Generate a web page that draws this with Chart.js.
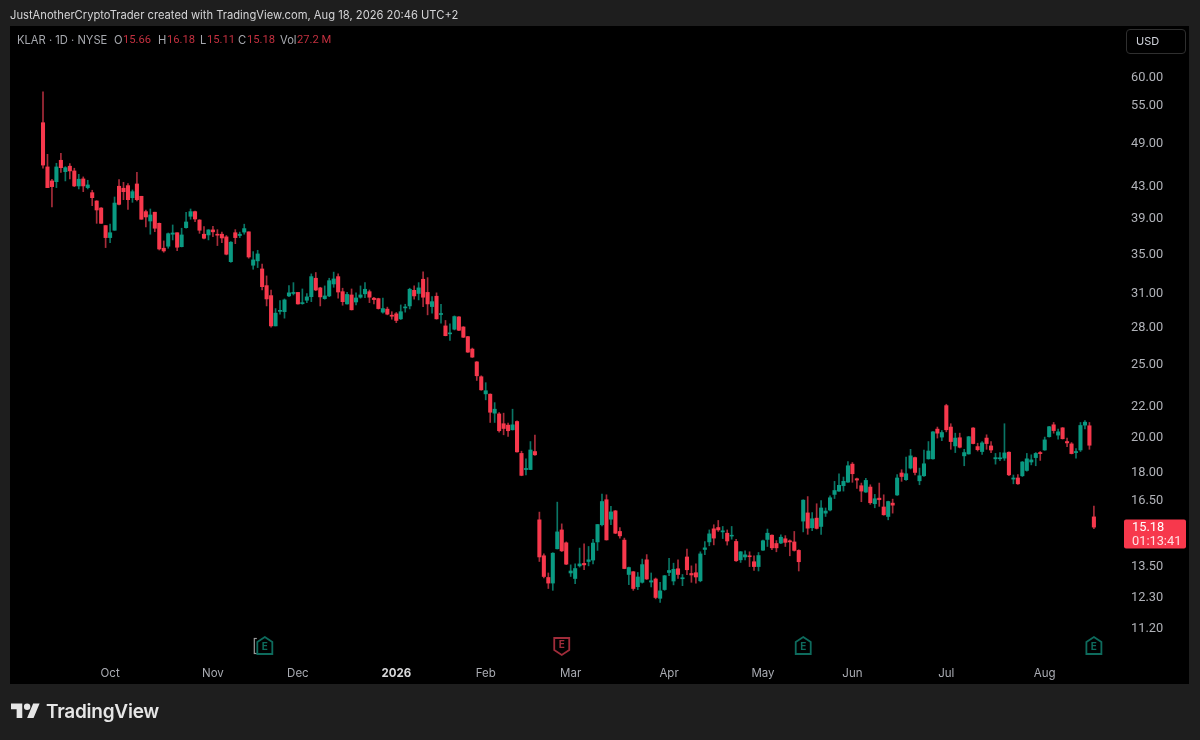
<!DOCTYPE html>
<html>
<head>
<meta charset="utf-8">
<script src="https://cdn.jsdelivr.net/npm/chart.js@4"></script>
<style>
html,body{margin:0;padding:0;background:#1e1e1e;width:1200px;height:740px;overflow:hidden;font-family:Inter,"Liberation Sans",sans-serif}
#panel{position:absolute;left:10px;top:26px;width:1179px;height:658px;background:#000}
#wrap{position:absolute;left:0;top:0;width:1200px;height:740px}
#head{position:absolute;left:10px;top:8px;font-size:11.2px;line-height:14px;color:#d4d4d6;white-space:nowrap}
#legend{position:absolute;left:0;top:33px;height:14px;font-size:11.2px;line-height:14px;color:#a6a8ae;white-space:nowrap}
#legend span{position:absolute;top:0}
#legend .v{color:#c2303f;font-family:Roboto,sans-serif;font-size:11.2px}
#usd{position:absolute;left:1126px;top:29px;width:58px;height:23px;border:1px solid #2f2f2f;border-radius:4px;color:#d1d4dc;font-size:11px;line-height:23px;text-align:left;text-indent:9px}
#logo{position:absolute;left:11px;top:700px}
#brand{position:absolute;left:46px;top:699px;font-size:19px;line-height:26px;font-weight:600;color:#e6e6e6;letter-spacing:-.25px}
</style>
</head>
<body>
<div id="panel"></div>
<div id="wrap"><canvas id="c" width="1200" height="740"></canvas></div>
<div id="head">JustAnotherCryptoTrader created with TradingView.com, Aug 18, 2026 20:46 UTC+2</div>
<div id="legend">
<span style="left:17px">KLAR · 1D · NYSE</span>
<span style="left:114px">O</span><span class="v" style="left:123px">15.66</span>
<span style="left:158px">H</span><span class="v" style="left:167px">16.18</span>
<span style="left:200px">L</span><span class="v" style="left:207px">15.11</span>
<span style="left:238px">C</span><span class="v" style="left:247px">15.18</span>
<span style="left:280px">Vol</span><span class="v" style="left:297px">27.2 M</span>
</div>
<div id="usd">USD</div>
<svg id="logo" width="29" height="20" viewBox="0 0 36 24"><path fill="#e6e6e6" d="M14 22H7V11H0V4h14v18zM28 22h-8l7.5-18h8L28 22z"/><circle fill="#e6e6e6" cx="20" cy="8" r="4"/></svg>
<div id="brand">TradingView</div>
<script>
const opens=[
52.04,45.48,43.58,43.48,46.41,44.83,45.58,44.93,42.92,43.85,
42.70,42.05,41.00,40.13,38.04,36.67,37.50,42.88,42.62,42.96,
41.41,43.18,41.59,39.69,38.57,39.62,38.30,35.50,35.72,37.05,
37.22,35.67,37.80,39.13,39.69,38.69,37.05,36.97,37.54,37.05,
37.05,36.75,34.08,37.22,36.90,37.29,37.32,33.71,34.16,33.33,
31.68,30.73,28.02,29.29,29.26,30.70,30.93,31.03,29.99,30.30,
30.63,32.40,31.46,30.45,30.70,31.84,32.56,31.10,29.96,30.79,
30.14,30.58,30.90,31.10,30.49,30.45,29.22,29.49,28.95,29.07,
28.63,29.60,29.78,31.23,30.93,32.30,31.03,29.72,30.67,29.01,
28.02,27.35,27.74,28.80,27.93,27.12,26.11,25.11,24.00,22.78,
22.76,21.48,21.43,20.80,20.71,20.42,20.94,19.00,18.09,18.09,
19.11,15.52,13.91,13.02,12.80,14.21,15.05,14.47,13.20,12.98,
13.49,13.59,13.67,13.73,14.51,15.29,16.50,15.55,15.95,14.98,
14.59,13.14,13.25,12.66,12.83,13.74,12.84,12.96,12.22,12.55,
13.22,12.88,13.37,12.97,13.86,13.18,13.21,12.89,14.18,14.51,
15.10,15.16,14.96,14.90,14.77,14.53,13.74,13.86,13.91,13.66,
13.46,14.15,14.62,14.81,14.44,14.46,14.65,14.56,14.51,14.14,
15.46,15.85,15.15,15.60,15.21,15.84,15.99,16.77,16.94,17.22,
17.41,18.39,17.59,17.22,16.89,17.15,16.30,16.58,16.14,15.68,
16.33,16.74,17.90,17.54,18.17,18.76,17.48,17.75,18.69,18.69,
20.46,19.97,21.98,20.59,19.44,19.93,18.86,18.97,20.53,19.40,
19.11,19.91,19.44,18.69,18.69,18.73,19.07,17.57,17.63,17.75,
18.04,18.51,18.76,19.05,19.20,19.99,20.73,20.09,20.54,19.70,
19.56,19.05,19.20,20.71,20.67,15.66];
const highs=[
57.19,47.26,43.81,45.99,47.40,45.52,45.93,45.30,44.47,44.12,
43.67,42.36,41.04,40.17,38.04,38.20,41.50,43.76,43.40,43.22,
42.40,44.74,41.59,39.89,40.01,39.62,38.34,36.30,37.19,38.11,
37.22,37.73,39.62,40.01,39.77,38.73,37.92,37.57,37.96,37.57,
37.29,36.90,36.23,37.57,37.29,38.20,37.32,35.14,35.28,33.84,
32.63,31.26,29.54,30.27,30.42,31.68,31.97,31.03,31.36,30.93,
32.83,32.97,31.52,31.65,32.40,33.01,32.83,31.43,31.03,31.36,
30.99,31.65,31.97,31.26,30.58,30.49,30.49,29.67,29.26,29.19,
29.87,29.93,31.43,31.65,31.97,33.04,32.46,30.63,30.99,29.93,
28.49,28.19,28.89,28.83,27.96,27.15,26.19,25.14,24.07,23.57,
22.78,22.18,21.52,21.48,20.84,21.74,20.98,19.13,18.69,19.70,
20.09,15.89,13.99,13.20,14.04,16.38,15.33,14.51,13.53,13.57,
14.24,14.43,14.31,14.63,15.30,16.79,16.75,16.17,15.97,15.16,
14.68,13.44,13.26,13.22,13.77,13.96,13.20,13.00,12.83,13.10,
13.80,13.60,13.74,13.14,14.20,13.49,13.57,14.08,14.53,15.05,
15.29,15.49,15.21,15.05,15.21,14.63,14.09,14.12,14.08,13.91,
14.05,14.59,15.09,14.83,14.57,14.83,14.79,14.60,14.98,14.17,
16.50,16.66,15.87,16.30,16.46,16.09,16.70,17.45,17.86,17.68,
18.54,18.48,17.63,17.36,17.61,17.27,16.77,17.36,16.75,16.43,
16.53,17.82,18.08,18.79,19.24,18.79,18.17,19.20,19.70,20.31,
20.59,20.37,22.07,20.80,20.21,20.21,19.24,20.01,20.56,19.60,
19.70,20.11,19.70,19.00,19.05,20.80,19.09,17.79,17.82,18.54,
19.00,18.92,19.05,19.11,19.97,20.63,20.88,20.46,20.56,19.91,
19.64,19.28,20.88,21.00,20.88,16.18];
const lows=[
45.30,42.70,40.26,42.70,44.74,43.58,43.85,42.83,42.53,42.18,
42.53,40.42,38.30,38.30,35.57,36.11,37.50,40.50,41.16,39.97,
40.83,41.00,38.78,37.88,37.05,37.34,35.31,35.07,35.50,36.41,
35.24,35.64,37.73,38.78,38.49,37.15,36.52,36.41,36.78,35.79,
36.11,34.79,34.01,36.00,36.67,37.05,34.44,33.30,33.47,31.26,
29.78,27.91,28.02,29.04,28.69,30.63,30.79,29.93,29.93,30.08,
30.17,31.20,29.78,30.39,30.63,31.52,30.49,29.84,29.93,29.41,
29.87,30.49,30.54,30.08,29.96,29.49,29.13,28.98,28.60,28.30,
28.57,29.22,29.51,30.39,30.33,29.72,28.98,29.13,28.60,28.25,
27.18,26.80,27.68,27.62,27.04,25.84,25.45,23.73,23.03,22.37,
20.88,20.88,20.27,20.11,20.01,20.40,19.07,17.75,17.80,18.08,
18.88,13.67,13.00,12.59,12.52,14.20,14.09,13.54,13.06,12.78,
13.44,13.33,13.49,13.57,14.14,15.24,14.59,15.29,14.88,14.68,
13.37,12.74,12.52,12.55,12.80,12.94,12.65,12.20,12.07,12.52,
13.09,12.73,12.98,12.70,13.13,12.83,12.80,12.85,13.96,14.34,
14.38,14.98,14.66,14.37,14.63,13.67,13.63,13.74,13.46,13.30,
13.28,14.14,14.31,14.17,14.08,14.43,14.31,13.91,14.11,13.28,
14.96,14.85,15.02,15.09,14.84,15.68,15.95,16.56,16.92,16.94,
17.40,17.40,17.08,16.40,16.87,16.27,16.10,16.17,15.74,15.52,
15.84,16.72,17.45,17.50,18.12,17.80,17.27,17.71,18.67,18.67,
19.91,19.75,20.29,19.24,19.05,19.32,18.30,18.96,19.56,19.14,
18.94,19.24,19.05,18.39,18.58,18.60,17.75,17.32,17.29,17.71,
18.00,18.35,18.30,18.60,19.18,19.97,20.21,19.85,19.85,19.40,
18.97,18.73,19.11,20.48,19.24,15.11];
const closes=[
45.74,42.70,42.83,45.48,45.38,45.38,44.93,42.92,43.81,42.92,
43.05,41.41,39.89,38.30,36.67,37.22,40.74,40.58,42.18,41.16,
42.18,41.16,38.78,39.05,39.29,37.73,35.42,35.21,37.11,37.19,
35.61,36.97,38.46,39.69,38.81,37.50,36.60,37.54,37.32,36.94,
36.63,34.86,36.16,36.67,37.05,37.69,34.57,34.26,34.89,31.58,
30.42,28.02,29.13,29.38,30.33,30.99,31.03,29.96,30.08,30.61,
32.56,31.26,30.61,30.70,32.16,32.33,31.07,30.17,30.84,29.43,
30.51,30.79,31.33,30.58,30.36,29.54,29.54,29.04,28.86,28.49,
29.26,29.69,31.33,30.70,31.46,30.58,29.96,30.17,28.63,29.10,
27.20,27.43,28.83,27.65,27.07,25.87,25.48,24.07,23.06,23.00,
21.54,21.74,20.36,20.50,20.36,20.73,19.09,17.77,18.15,19.20,
18.92,13.86,13.06,12.80,14.02,14.96,14.12,13.56,13.28,13.38,
13.57,13.53,13.74,14.46,15.30,16.41,14.60,15.90,14.90,14.78,
13.38,13.42,12.59,13.04,13.54,12.96,12.89,12.25,12.50,13.09,
13.30,13.35,13.14,13.01,13.33,13.12,13.04,13.99,14.25,14.87,
14.68,15.05,15.01,14.55,14.81,13.70,14.08,13.95,13.87,13.46,
13.92,14.56,14.90,14.25,14.25,14.72,14.49,14.51,14.14,13.66,
16.48,15.13,15.57,15.12,16.09,15.94,16.60,16.97,17.24,17.45,
18.30,17.86,17.52,16.94,17.50,16.35,16.55,16.50,15.76,16.41,
16.23,17.63,17.71,17.86,18.86,17.93,17.75,18.41,19.14,20.29,
20.21,20.25,20.42,19.70,19.91,19.36,19.05,19.99,19.58,19.22,
19.62,19.58,19.20,18.76,18.75,19.03,17.80,17.63,17.32,18.51,
18.69,18.63,19.00,18.99,19.80,20.61,20.37,20.29,19.87,19.62,
18.99,19.11,20.69,20.90,19.48,15.18];

const priceTicks=[60,55,49,43,39,35,31,28,25,22,20,18,16.5,13.5,12.3,11.2];
const monthBars=[15,38,57,79,99,118,140,161,181,202,224];
const monthLabels=['Oct','Nov','Dec','2026','Feb','Mar','Apr','May','Jun','Jul','Aug'];
const earningsBars=[49.6,116,170,235];
const countdown='01:13:41';

const RED='#f7384c',GREEN='#0a9a82',RED_W='#a82c3a',GREEN_W='#0a7565';
const isUp=i=>closes[i]>=opens[i];
const wickData=opens.map((_,i)=>({x:i,y:[lows[i],highs[i]]}));
const bodyData=opens.map((_,i)=>({x:i,y:[Math.min(opens[i],closes[i]),Math.max(opens[i],closes[i])]}));

const overlay={id:'overlay',afterDatasetsDraw(chart){
  const {ctx,scales:{x,y}}=chart;
  ctx.save();
  // earnings markers
  const my=646;
  earningsBars.forEach((b,k)=>{
    const cx=x.getPixelForValue(b);
    const down=k===1;
    const col=down?'#a02c3a':'#0e6b5d';
    if(k===0){ctx.strokeStyle='#9a9a9a';ctx.lineWidth=1.2;ctx.strokeRect(cx-10.5,my-7.5,8,15);ctx.fillStyle='#000';ctx.fillRect(cx-8,my-9,16,18);}
    ctx.beginPath();
    if(down){ctx.moveTo(cx-7.5,my-8);ctx.lineTo(cx+7.5,my-8);ctx.lineTo(cx+7.5,my+4);ctx.lineTo(cx,my+9);ctx.lineTo(cx-7.5,my+4);}
    else{ctx.moveTo(cx,my-9);ctx.lineTo(cx+7.5,my-4);ctx.lineTo(cx+7.5,my+8);ctx.lineTo(cx-7.5,my+8);ctx.lineTo(cx-7.5,my-4);}
    ctx.closePath();ctx.lineWidth=1.8;ctx.strokeStyle=col;ctx.stroke();
    ctx.fillStyle=col;ctx.font='700 10px Inter';ctx.textAlign='center';ctx.textBaseline='middle';
    ctx.fillText('E',cx,my+(down?-1:1));
  });
  // last price tag
  const last=closes[closes.length-1],ly=y.getPixelForValue(last);
  ctx.fillStyle=RED;
  ctx.beginPath();ctx.roundRect(1124,ly-7.5,62,29,2);ctx.fill();
  ctx.fillStyle='#fff';ctx.font='12.8px Roboto';ctx.textAlign='left';ctx.textBaseline='middle';
  ctx.fillText(last.toFixed(2),1132,ly+1);
  ctx.fillStyle='#ffdfe2';
  ctx.fillText(countdown,1132,ly+14.5);
  ctx.restore();
}};

new Chart(document.getElementById('c'),{
  type:'bar',
  data:{datasets:[
    {label:'Wick',data:wickData,grouped:false,barThickness:1,order:2,
     backgroundColor:c=>isUp(c.dataIndex)?GREEN_W:RED_W},
    {label:'Body',data:bodyData,grouped:false,barThickness:3.4,order:1,
     backgroundColor:c=>isUp(c.dataIndex)?GREEN:RED}
  ]},
  options:{
    responsive:false,animation:false,
    layout:{padding:{left:10,top:26,right:11,bottom:56}},
    plugins:{legend:{display:false},tooltip:{enabled:false}},
    scales:{
      x:{type:'linear',min:-7.38,max:240.39,offset:false,
        grid:{display:false},border:{display:false},
        afterBuildTicks:s=>{s.ticks=monthBars.map(value=>({value}));},
        afterFit:s=>{s.height=28;},
        ticks:{autoSkip:false,maxRotation:0,padding:3,
          callback:v=>monthLabels[monthBars.indexOf(v)],
          color:c=>monthBars[c.index]===79?'#d8d8da':'#a9abb2',
          font:c=>monthBars[c.index]===79?{family:'Inter',size:11.5,weight:'700'}:{family:'Inter',size:11.5}}
      },
      y:{type:'logarithmic',position:'right',min:10.25,max:69.87,
        grid:{display:false},border:{display:false},
        afterBuildTicks:s=>{s.ticks=priceTicks.map(value=>({value}));},
        afterFit:s=>{s.width=71;},
        ticks:{autoSkip:false,padding:5,labelOffset:1.5,color:'#b0b2b8',font:{family:'Roboto',size:12.8},
          callback:v=>Number(v).toFixed(2)}
      }
    }
  },
  plugins:[overlay]
});
</script>
</body>
</html>
